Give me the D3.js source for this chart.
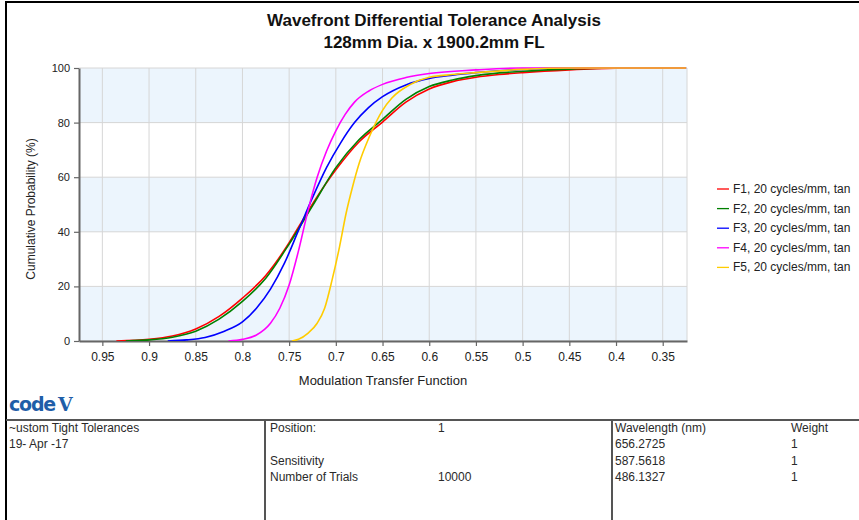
<!DOCTYPE html>
<html>
<head>
<meta charset="utf-8">
<script src="https://cdn.jsdelivr.net/npm/d3@7"></script>
<style>
  html, body { margin: 0; padding: 0; background: #fff; }
  svg { display: block; font-family: "Liberation Sans", Arial, sans-serif; }
</style>
</head>
<body>
<svg id="chart" width="859" height="520"></svg>
<script>
// ---------- DATA ----------
const titleLines = ["Wavefront Differential Tolerance Analysis", "128mm Dia. x 1900.2mm FL"];
const xTicks = [0.95, 0.9, 0.85, 0.8, 0.75, 0.7, 0.65, 0.6, 0.55, 0.5, 0.45, 0.4, 0.35];
const yTicks = [0, 20, 40, 60, 80, 100];
const seriesNames = ["F1, 20 cycles/mm, tan", "F2, 20 cycles/mm, tan", "F3, 20 cycles/mm, tan", "F4, 20 cycles/mm, tan", "F5, 20 cycles/mm, tan"];
const seriesColors = ["#ff0000", "#008000", "#0000ff", "#ff00ff", "#ffcc00"];

// [MTF, cumulative probability %]
const f1 = [[0.935,0],[0.9,0.6],[0.875,1.8],[0.85,4.4],[0.825,9],[0.8,15.7],[0.775,24],[0.75,36],[0.736,44],[0.721,52.3],[0.7,62.7],[0.675,73],[0.65,80.2],[0.625,87.5],[0.6,92.3],[0.575,95],[0.55,96.6],[0.525,97.6],[0.5,98.3],[0.45,99.3],[0.4,99.9],[0.35,100],[0.325,100]];
const f2 = [[0.925,0],[0.9,0.4],[0.875,1.4],[0.85,3.6],[0.825,8],[0.8,14.5],[0.775,23],[0.75,35.5],[0.725,49.5],[0.7,63.5],[0.675,73.8],[0.65,81.2],[0.625,88.5],[0.6,93.2],[0.575,95.6],[0.55,97.2],[0.5,98.8],[0.45,99.6],[0.4,100],[0.325,100]];
const f3 = [[0.88,0],[0.86,0.4],[0.84,1.3],[0.82,3.5],[0.8,7],[0.785,12],[0.77,19],[0.755,28.5],[0.74,40.5],[0.725,52.5],[0.71,63.5],[0.695,72.5],[0.68,80],[0.665,85.5],[0.65,89.5],[0.625,93.8],[0.6,96.2],[0.575,97.4],[0.55,98.3],[0.5,99.5],[0.45,100],[0.325,100]];
const f4 = [[0.815,0],[0.8,0.6],[0.785,2.2],[0.77,6.5],[0.76,12],[0.75,20.5],[0.74,33],[0.73,47.5],[0.72,60],[0.71,69.5],[0.7,77],[0.69,83],[0.68,87.5],[0.665,91.5],[0.65,94],[0.625,96.5],[0.6,98],[0.55,99.3],[0.5,100],[0.325,100]];
const f5 = [[0.747,0],[0.74,0.6],[0.73,2.8],[0.72,6.5],[0.712,12],[0.704,22.4],[0.696,34.6],[0.689,46.8],[0.682,56.6],[0.675,65.1],[0.664,74.9],[0.65,84.5],[0.64,89],[0.62,94],[0.6,96.6],[0.575,97.6],[0.55,98.3],[0.5,99.5],[0.45,100],[0.325,100]];
const allSeries = [f1, f2, f3, f4, f5];

const xTitle = "Modulation Transfer Function";
const yTitle = "Cumulative Probability (%)";

const tableCol1 = ["~ustom Tight Tolerances", "19- Apr -17", "", ""];
const tableCol2 = ["Position:", "", "Sensitivity", "Number of Trials"];
const tableCol3 = ["1", "", "", "10000"];
const tableCol4 = ["Wavelength (nm)", "656.2725", "587.5618", "486.1327"];
const tableCol5 = ["Weight", "1", "1", "1"];

// ---------- LAYOUT ----------
const svg = d3.select("#chart");
const plot = {left: 79, right: 687, top: 68, bottom: 341};

const x = d3.scaleLinear().domain([0.975, 0.324]).range([plot.left, plot.right]);
const y = d3.scaleLinear().domain([0, 100]).range([plot.bottom, plot.top]);

// frame
svg.append("line").attr("x1", 5).attr("x2", 859).attr("y1", 2).attr("y2", 2).attr("stroke", "#000").attr("stroke-width", 2);
svg.append("line").attr("x1", 6).attr("x2", 6).attr("y1", 1).attr("y2", 520).attr("stroke", "#000").attr("stroke-width", 2);

// title
svg.selectAll("text.title").data(titleLines).enter().append("text")
  .attr("class", "title")
  .attr("x", 434).attr("y", (d, i) => 26 + i * 22)
  .attr("text-anchor", "middle")
  .attr("font-size", 17).attr("font-weight", "bold").attr("fill", "#111")
  .text(d => d);

// bands
const bandEdges = d3.pairs(yTicks);
svg.selectAll("rect.band").data(bandEdges).enter().append("rect")
  .attr("x", plot.left).attr("width", plot.right - plot.left)
  .attr("y", d => y(d[1])).attr("height", d => y(d[0]) - y(d[1]))
  .attr("fill", (d, i) => i % 2 === 0 ? "#ecf5fd" : "#ffffff");

// grid
svg.selectAll("line.vgrid").data(xTicks).enter().append("line")
  .attr("x1", d => x(d)).attr("x2", d => x(d)).attr("y1", plot.top).attr("y2", plot.bottom)
  .attr("stroke", "#d6d6d6").attr("stroke-width", 1);
svg.selectAll("line.hgrid").data(yTicks).enter().append("line")
  .attr("x1", plot.left).attr("x2", plot.right).attr("y1", d => y(d)).attr("y2", d => y(d))
  .attr("stroke", "#d6d6d6").attr("stroke-width", 1);
svg.append("line").attr("x1", plot.right).attr("x2", plot.right).attr("y1", plot.top).attr("y2", plot.bottom)
  .attr("stroke", "#d6d6d6");

// axes
const xAxis = d3.axisBottom(x).tickValues(xTicks).tickSize(5).tickSizeOuter(0).tickFormat(d3.format("~g")).tickPadding(6);
const gx = svg.append("g").attr("transform", `translate(0,${plot.bottom})`).call(xAxis);
gx.select(".domain").attr("stroke", "#666").attr("stroke-width", 2);
gx.selectAll(".tick line").attr("stroke", "#666").attr("stroke-width", 1.2);
gx.selectAll(".tick text").attr("font-size", 12).attr("fill", "#222").attr("font-family", "Liberation Sans, Arial, sans-serif");

const yAxis = d3.axisLeft(y).tickValues(yTicks).tickSize(5).tickSizeOuter(0).tickPadding(4);
const gy = svg.append("g").attr("transform", `translate(${plot.left},0)`).call(yAxis);
gy.select(".domain").attr("stroke", "#666").attr("stroke-width", 2);
gy.selectAll(".tick line").attr("stroke", "#666").attr("stroke-width", 1.2);
gy.selectAll(".tick text").attr("font-size", 11).attr("fill", "#222").attr("font-family", "Liberation Sans, Arial, sans-serif");

// axis titles
svg.append("text").attr("x", 383).attr("y", 385).attr("text-anchor", "middle")
  .attr("font-size", 13).attr("fill", "#222").text(xTitle);
svg.append("text").attr("transform", `translate(35,209) rotate(-90)`).attr("text-anchor", "middle")
  .attr("font-size", 12).attr("fill", "#222").text(yTitle);

// curves
const line = d3.line().x(d => x(d[0])).y(d => y(d[1])).curve(d3.curveMonotoneX);
svg.append("clipPath").attr("id", "clip").append("rect")
  .attr("x", plot.left).attr("y", plot.top - 2).attr("width", plot.right - plot.left).attr("height", plot.bottom - plot.top + 2);
svg.append("g").attr("clip-path", "url(#clip)")
  .selectAll("path.series").data(allSeries).enter().append("path")
  .attr("d", line).attr("fill", "none")
  .attr("stroke", (d, i) => seriesColors[i]).attr("stroke-width", 1.6);

// legend
const lg = svg.append("g");
seriesNames.forEach((name, i) => {
  const yy = 189 + i * 19.6;
  lg.append("line").attr("x1", 717).attr("x2", 729).attr("y1", yy).attr("y2", yy)
    .attr("stroke", seriesColors[i]).attr("stroke-width", 1.3);
  lg.append("text").attr("x", 733).attr("y", yy + 4).attr("font-size", 12).attr("fill", "#222").text(name);
});

// logo
const logo = svg.append("text").attr("x", 9).attr("y", 411).attr("fill", "#1f5ea8")
  .attr("font-family", "DejaVu Sans, sans-serif").attr("font-weight", "bold");
logo.append("tspan").attr("font-size", 19).attr("letter-spacing", -1.2).text("code");
logo.append("tspan").attr("dx", 3).attr("font-size", 19).attr("font-family", "DejaVu Serif, serif").text("V");

// table
svg.append("line").attr("x1", 6).attr("x2", 859).attr("y1", 420).attr("y2", 420).attr("stroke", "#555").attr("stroke-width", 2);
[265, 612].forEach(vx => {
  svg.append("line").attr("x1", vx).attr("x2", vx).attr("y1", 420).attr("y2", 520).attr("stroke", "#555").attr("stroke-width", 2);
});
const rowY = [432, 448, 464.5, 481];
const cols = [[tableCol1, 9], [tableCol2, 270], [tableCol3, 438], [tableCol4, 615], [tableCol5, 791]];
cols.forEach(([vals, cx]) => {
  vals.forEach((v, i) => {
    if (v) svg.append("text").attr("x", cx).attr("y", rowY[i]).attr("font-size", 12).attr("fill", "#2a2a2a").text(v);
  });
});
</script>
</body>
</html>
